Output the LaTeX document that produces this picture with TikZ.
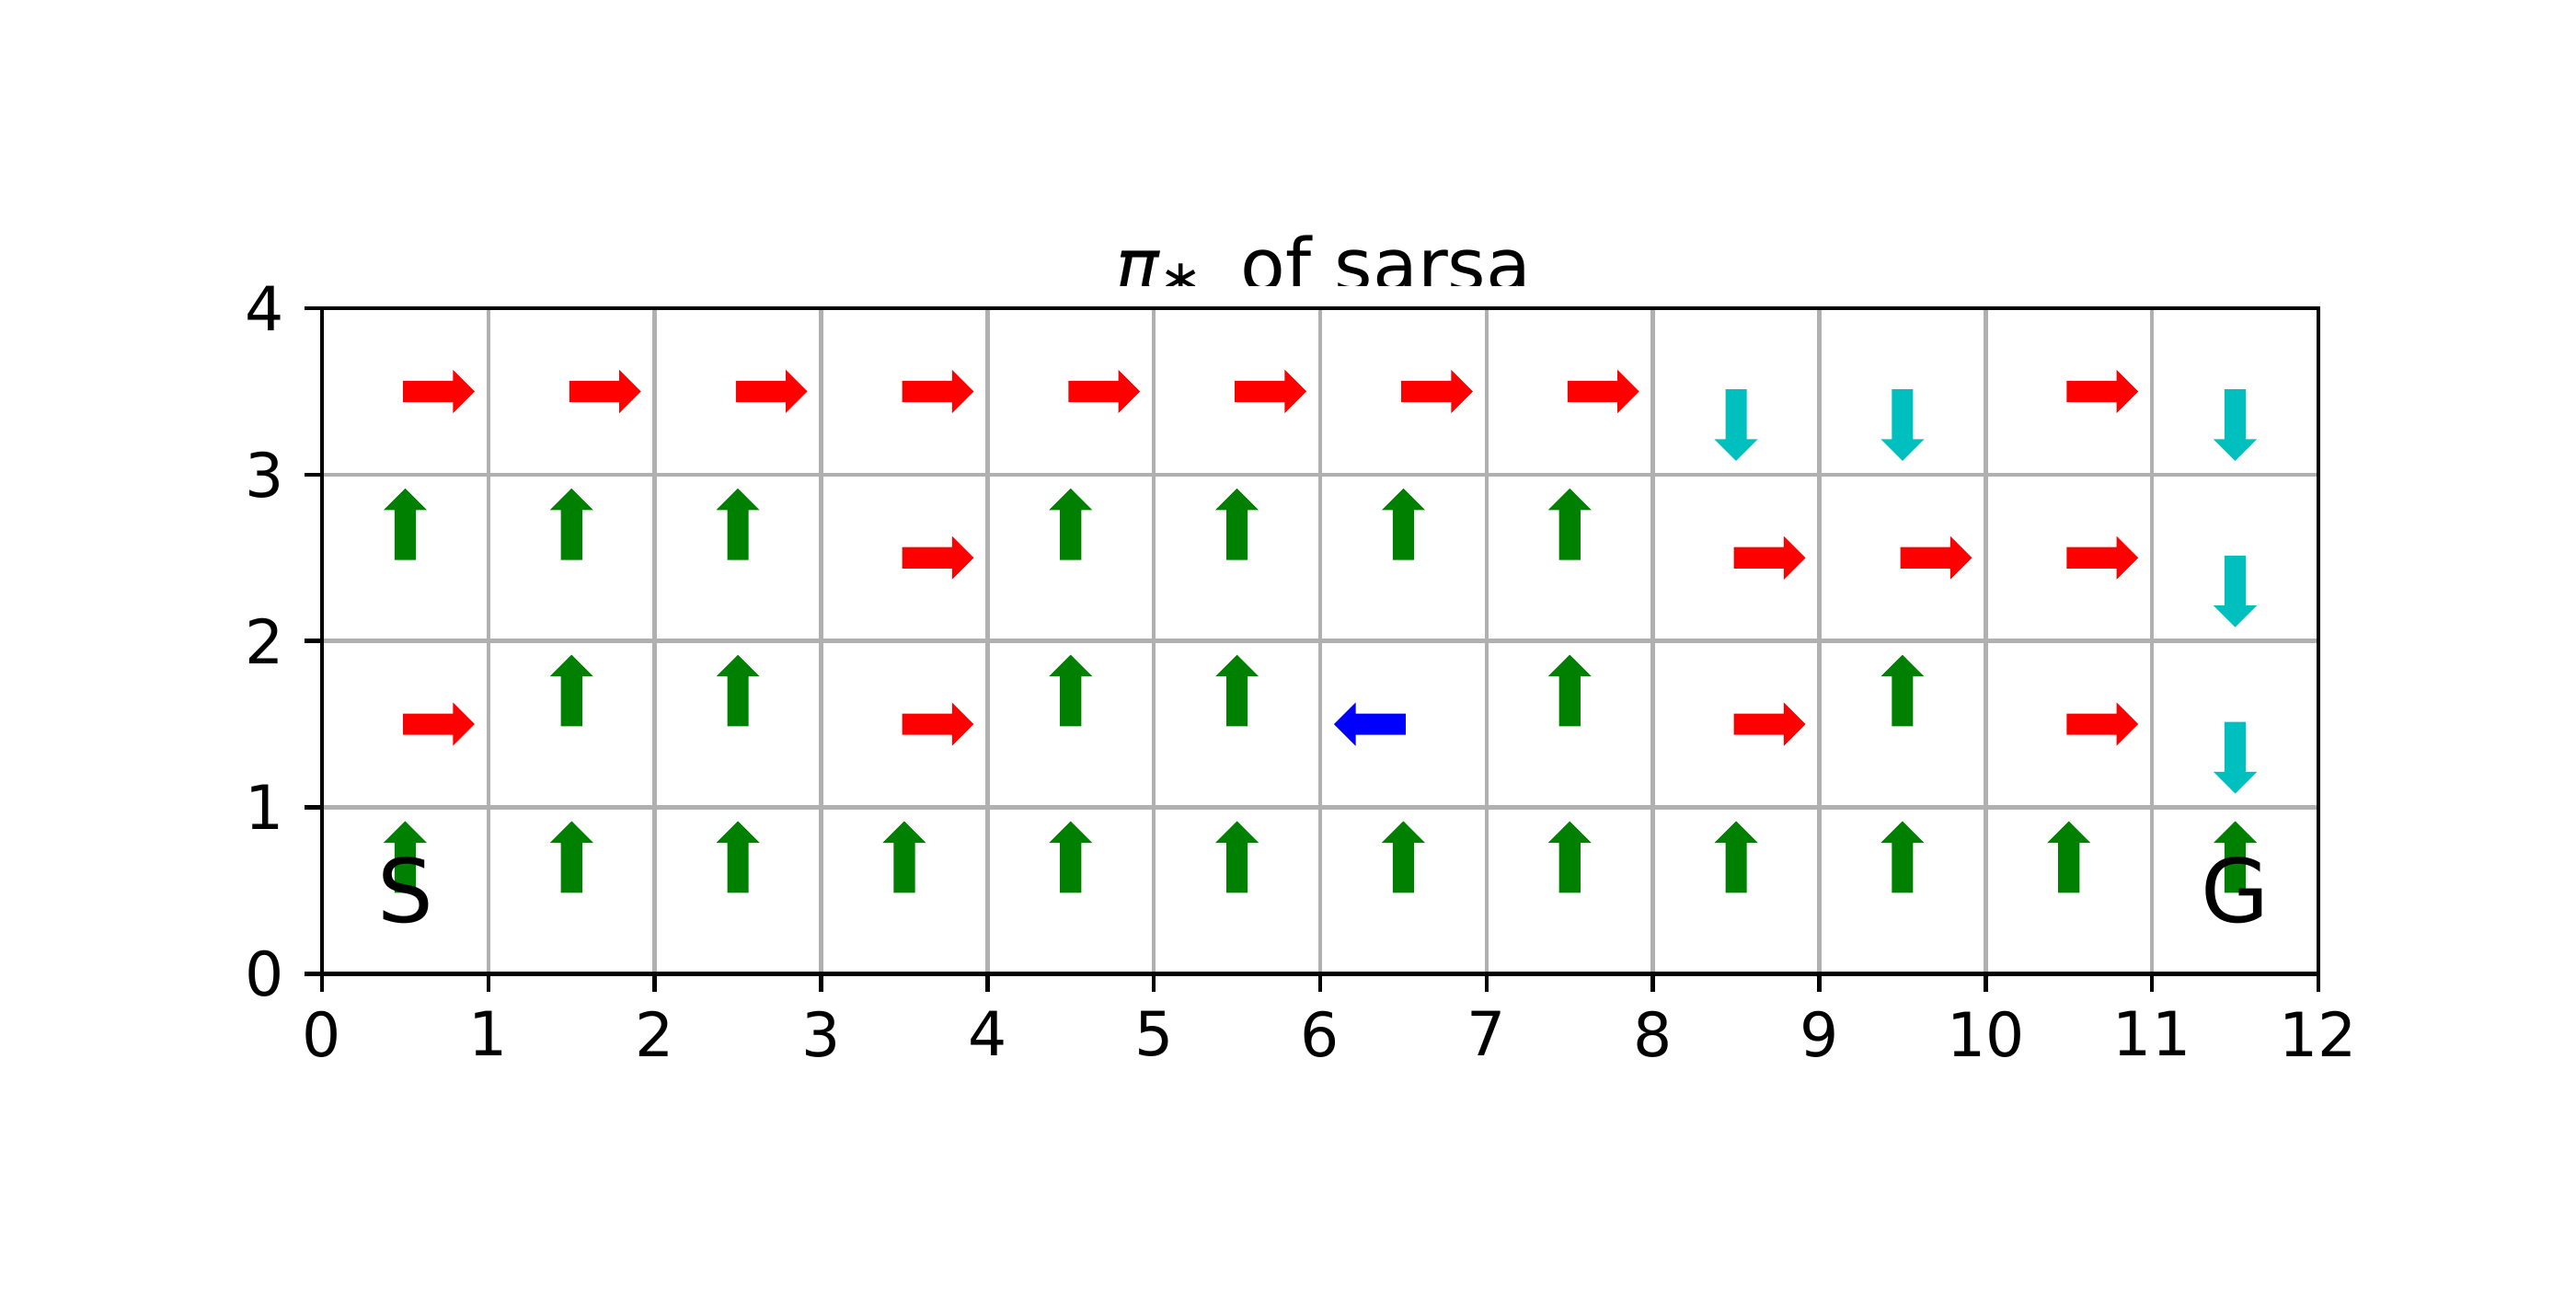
\documentclass[tikz,border=0pt]{standalone}
\usepackage{fontspec}
\setmainfont{DejaVu Sans}
\usepackage{tikz}
\definecolor{colRight}{RGB}{255,0,0}
\definecolor{colUp}{RGB}{0,128,0}
\definecolor{colDown}{RGB}{0,191,191}
\definecolor{colLeft}{RGB}{0,0,255}
\definecolor{colGrid}{RGB}{176,176,176}
\tikzset{
    gridline/.style={draw=colGrid, line width=0.8pt},
    spine/.style={draw=black, line width=0.8pt},
    ticklabel/.style={inner sep=0pt, font=\fontsize{12}{14}\selectfont},
    marker/.style={inner sep=0pt, font=\fontsize{17.28}{20}\selectfont},
    moveR/.style={fill=colRight, rotate=0},
    moveU/.style={fill=colUp, rotate=90},
    moveD/.style={fill=colDown, rotate=-90},
    moveL/.style={fill=colLeft, rotate=180}
}
\newcommand{\policyarrow}[3]{%
    \path[shift={(#1+0.5,#2+0.5)}, move#3]
        (-0.013,-0.064) -- (0.287,-0.064) -- (0.287,-0.13) -- (0.417,0)
        -- (0.287,0.13) -- (0.287,0.064) -- (-0.013,0.064) -- cycle;}

\begin{document}
\begin{tikzpicture}[x=1.14829cm, y=1.14829cm]

    \path[fill=white] (-1.9358,-1.8916) rectangle (13.5487,5.8529);

    \foreach \i in {1,...,11} \draw[gridline] (\i,0) -- (\i,4);
    \foreach \j in {1,2,3} \draw[gridline] (0,\j) -- (12,\j);

    \foreach \d [count=\c from 0] in {R,R,R,R,R,R,R,R,D,D,R,D} {\policyarrow{\c}{3}{\d}}
    \foreach \d [count=\c from 0] in {U,U,U,R,U,U,U,U,R,R,R,D} {\policyarrow{\c}{2}{\d}}
    \foreach \d [count=\c from 0] in {R,U,U,R,U,U,L,U,R,U,R,D} {\policyarrow{\c}{1}{\d}}
    \foreach \d [count=\c from 0] in {U,U,U,U,U,U,U,U,U,U,U,U} {\policyarrow{\c}{0}{\d}}

    \foreach \i in {0,...,12}
        \draw[spine] (\i,0) -- ++(0,-3.5pt) node[ticklabel, anchor=north, yshift=-3.5pt] (xtick\i) {\i};
    \foreach \j in {0,...,4}
        \draw[spine] (0,\j) -- ++(-3.5pt,0) node[ticklabel, anchor=east, xshift=-3.5pt] (ytick\j) {\j};
    \draw[spine] (0,0) rectangle (12,4);

    \node[marker] (start) at (0.5,0.5) {S};
    \node[marker] (goal) at (11.5,0.5) {G};

    \begin{scope}
        \clip (0,4.138) rectangle (12,5.8);
        \node[inner sep=0pt, anchor=base, font=\fontsize{14.4}{17}\selectfont] (title) at (6.02,4.105)
            {{\itshape π}\raisebox{-1pt}{\fontsize{10}{12}\selectfont ∗}\hspace{0.2em} of sarsa};
    \end{scope}

\end{tikzpicture}
\end{document}
